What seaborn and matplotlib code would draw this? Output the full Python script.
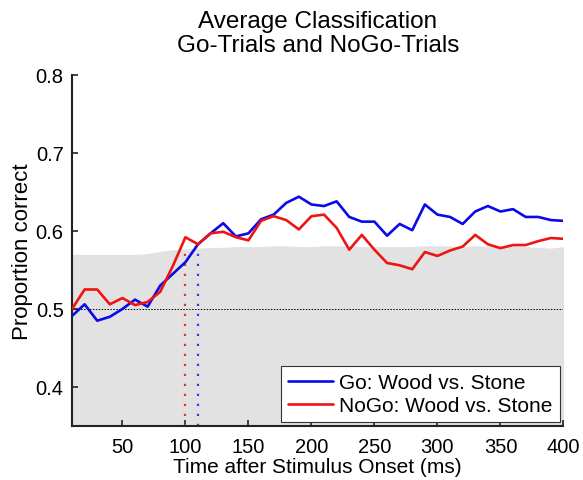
import numpy as np
import pandas as pd
import matplotlib
matplotlib.use("Agg")
import matplotlib.pyplot as plt
import seaborn as sns

# Time bins (ms after stimulus onset)
time_ms = list(range(10, 401, 10))

# Classification accuracy, Go trials
go_acc = [0.491, 0.506, 0.485, 0.490, 0.500, 0.512, 0.503, 0.530, 0.545, 0.560,
          0.583, 0.597, 0.610, 0.593, 0.597, 0.615, 0.621, 0.636, 0.644, 0.634,
          0.632, 0.638, 0.618, 0.612, 0.612, 0.594, 0.609, 0.601, 0.634, 0.621,
          0.618, 0.609, 0.625, 0.632, 0.625, 0.628, 0.618, 0.618, 0.614, 0.613]

# Classification accuracy, NoGo trials
nogo_acc = [0.500, 0.525, 0.525, 0.506, 0.514, 0.505, 0.509, 0.522, 0.555, 0.592,
            0.583, 0.597, 0.599, 0.592, 0.588, 0.613, 0.619, 0.614, 0.602, 0.619,
            0.621, 0.604, 0.576, 0.595, 0.576, 0.559, 0.556, 0.551, 0.573, 0.568,
            0.575, 0.580, 0.595, 0.583, 0.578, 0.582, 0.582, 0.587, 0.591, 0.590]

# Upper bound of the chance-level (permutation) distribution
chance_upper = [0.570, 0.570, 0.570, 0.570, 0.570, 0.570, 0.571, 0.574, 0.576, 0.577,
                0.578, 0.579, 0.579, 0.580, 0.580, 0.580, 0.581, 0.581, 0.580, 0.580,
                0.581, 0.581, 0.581, 0.580, 0.580, 0.580, 0.580, 0.580, 0.581, 0.581,
                0.581, 0.580, 0.581, 0.581, 0.581, 0.581, 0.580, 0.579, 0.578, 0.580]

# First significant time bin per condition
onset_go = 110
onset_nogo = 100

series_names = ["Go: Wood vs. Stone", "NoGo: Wood vs. Stone"]
series_colors = ["#0a0ae8", "#ee1414"]

df = pd.DataFrame({
    "time": time_ms * 2,
    "acc": go_acc + nogo_acc,
    "cond": [series_names[0]] * len(time_ms) + [series_names[1]] * len(time_ms),
})

sns.set_style("ticks")
plt.rcParams["font.family"] = ["Liberation Sans", "DejaVu Sans"]
plt.rcParams["xtick.direction"] = "in"
plt.rcParams["ytick.direction"] = "in"
plt.rcParams["text.color"] = "black"
plt.rcParams["axes.labelcolor"] = "black"
plt.rcParams["xtick.labelcolor"] = "black"
plt.rcParams["ytick.labelcolor"] = "black"

fig = plt.figure(figsize=(5.83, 4.81), dpi=100)
ax = fig.add_axes([0.1235, 0.1123, 0.843, 0.7297])

ymin = 0.35
ax.fill_between(time_ms, ymin, chance_upper, color="#e2e2e2", linewidth=0, zorder=0)
ax.axhline(0.5, color="black", linewidth=0.7, linestyle=(0, (1.5, 1.5)), zorder=1)

# Onset markers
t_idx = {t: i for i, t in enumerate(time_ms)}
ax.plot([onset_nogo, onset_nogo], [ymin, chance_upper[t_idx[onset_nogo]]],
        color="#e03030", linewidth=1.6, linestyle=(0, (1, 3.5)), zorder=2)
ax.plot([onset_go, onset_go], [ymin, chance_upper[t_idx[onset_go]]],
        color="#3a3ae0", linewidth=1.6, linestyle=(0, (1, 3.5)), zorder=2)

sns.lineplot(data=df, x="time", y="acc", hue="cond", palette=series_colors,
             hue_order=series_names, linewidth=1.9, ax=ax, zorder=3, legend=True)

ax.set_xlim(10, 400)
ax.set_ylim(ymin, 0.8)
ax.set_xticks([50, 100, 150, 200, 250, 300, 350, 400])
ax.set_yticks([0.4, 0.5, 0.6, 0.7, 0.8])
ax.set_yticklabels(["0.4", "0.5", "0.6", "0.7", "0.8"])
ax.tick_params(labelsize=14.5, length=4, width=1.2, color="#222222", labelcolor="black")
ax.tick_params(axis="y", pad=6)
ax.tick_params(axis="x", pad=8)
for s in ["left", "bottom"]:
    ax.spines[s].set_linewidth(1.5)
    ax.spines[s].set_color("#222222")
sns.despine(ax=ax)

ax.set_xlabel("Time after Stimulus Onset (ms)", fontsize=15, labelpad=1, color="black")
ax.set_ylabel("Proportion correct", fontsize=16, color="black")
ax.yaxis.set_label_coords(-0.08, 0.5)
ax.set_title("Average Classification\nGo-Trials and NoGo-Trials", fontsize=17.5, pad=17,
             linespacing=1.12, color="black")

leg = ax.legend(loc="lower right", bbox_to_anchor=(0.992, 0.01), fontsize=15,
                frameon=True, fancybox=False, edgecolor="#333333", framealpha=1,
                handlelength=2.15, handletextpad=0.3, borderpad=0.35, labelspacing=0.18,
                borderaxespad=0)
leg.get_frame().set_linewidth(0.8)
for txt in leg.get_texts():
    txt.set_color("black")

fig.savefig("out.png", dpi=100)
